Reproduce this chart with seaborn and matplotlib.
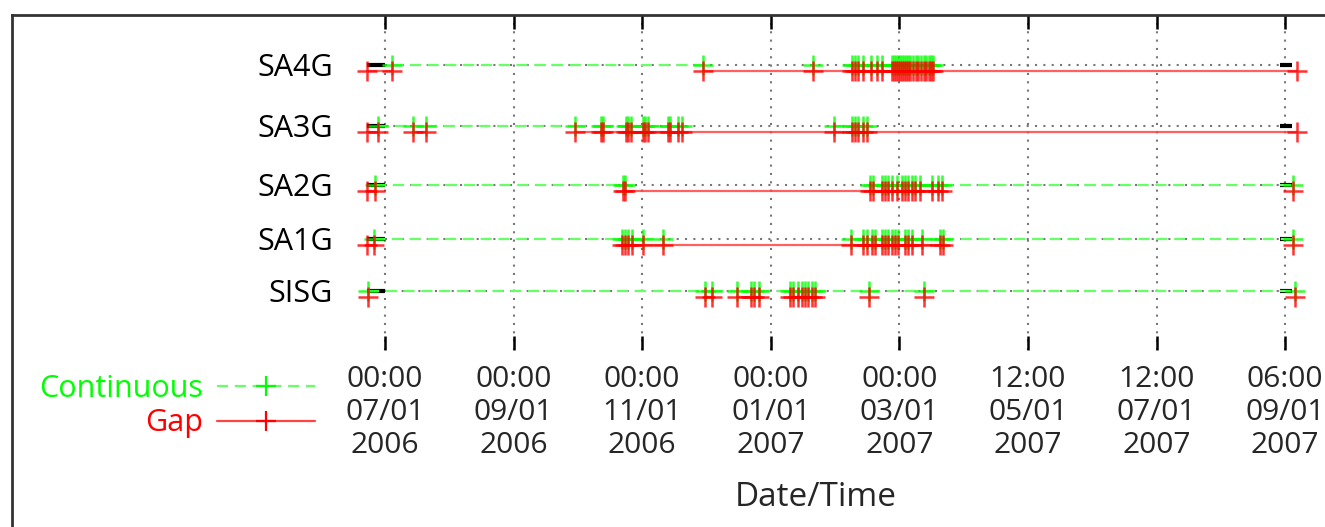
import numpy as np
import pandas as pd
import matplotlib
matplotlib.use("Agg")
import matplotlib.pyplot as plt
import seaborn as sns
from matplotlib.lines import Line2D

# ---------------- data ----------------
rows = ["SA4G", "SA3G", "SA2G", "SA1G", "SISG"]
row_pos = [50, 111, 170, 224, 276]          # vertical placement of each row (top = 0)

# x values: days since 2006-07-01 00:00
tick_days = [0, 61, 122, 183, 244, 305, 366, 427]
tick_labels = ["00:00\n07/01\n2006", "00:00\n09/01\n2006", "00:00\n11/01\n2006",
               "00:00\n01/01\n2007", "00:00\n03/01\n2007", "12:00\n05/01\n2007",
               "12:00\n07/01\n2007", "06:00\n09/01\n2007"]

range_start = -8.5
data_start = 0.0
data_end = 424.6
range_end = 430.5

sa4g_c = [221.5, 223.0, 224.4, 226.8, 230.5, 233.4, 235.8, 240.5, 241.5, 242.4, 243.4,
          244.3, 245.3, 246.2, 247.2, 248.1, 249.1, 250.5, 251.9, 252.8, 254.3, 255.7,
          256.6, 258.1, 259.0, 260.0]
sa3g_c1 = [90.1, 102.5, 103.4, 114.3, 115.3, 116.7, 122.4, 123.3, 124.8, 134.3, 135.2,
           139.0, 140.9]
sa3g_c2 = [213.0, 221.5, 223.0, 224.4, 226.8, 228.7]
sa2g_c = [230.1, 231.5, 235.8, 237.2, 238.6, 240.5, 242.9, 245.3, 246.7, 248.1, 250.0,
          251.4, 253.8, 259.5, 262.3, 264.2]
sa1g_c1 = [112.4, 113.9, 115.3, 117.2, 122.4, 131.9]
sa1g_c2 = [221.1, 226.8, 228.7, 231.0, 232.4, 235.8, 237.2, 238.6, 240.5, 241.9, 243.4,
           246.7, 248.1, 250.0, 254.7, 263.3, 264.7]
sisg_a = [151.8, 155.1]
sisg_b = [167.0, 173.6, 175.0, 177.4]
sisg_c = [192.1, 193.5, 195.9, 197.8, 199.2, 200.7, 202.6, 204.0]

continuous_runs = {
    "SA4G": [[3.3, 150.9], [203.0], sa4g_c],
    "SA3G": [[-3.3, 13.3, 19.4] + sa3g_c1, sa3g_c2],
    "SA2G": [[-4.9, 112.9, 113.9], sa2g_c + [430.7]],
    "SA1G": [[-5.2] + sa1g_c1, sa1g_c2 + [430.7]],
    "SISG": [[-8.2] + sisg_a + sisg_b + sisg_c + [229.6, 255.7, 431.7]],
}
gap_runs = {
    "SA4G": [[-8.5, 3.3], [150.9, 203.0] + sa4g_c + [432.6]],
    "SA3G": [[-8.5, -3.3], [13.3, 19.4], sa3g_c1 + sa3g_c2 + [432.6]],
    "SA2G": [[-8.5, -4.9], [112.9, 113.9] + sa2g_c, [430.7]],
    "SA1G": [[-8.5, -5.2], sa1g_c1 + sa1g_c2, [430.7]],
    "SISG": [[-8.2], sisg_a, sisg_b, sisg_c, [229.6], [255.7], [431.7]],
}

# ---------------- helpers ----------------
def seg_frame(runs, offset=0.0):
    recs, uid = [], 0
    for name, pos in zip(rows, row_pos):
        for run in runs[name]:
            for a, b in zip(run[:-1], run[1:]):
                recs += [(uid, a, pos + offset), (uid, b, pos + offset)]
                uid += 1
    return pd.DataFrame(recs, columns=["seg", "x", "y"])

def mark_frame(runs, offset=0.0):
    recs = []
    for name, pos in zip(rows, row_pos):
        for run in runs[name]:
            for v in run:
                recs.append((v, pos + offset))
    return pd.DataFrame(recs, columns=["x", "y"])

def span_frame(pairs):
    recs, uid = [], 0
    for pos in row_pos:
        for a, b in pairs:
            recs += [(uid, a, pos), (uid, b, pos)]
            uid += 1
    return pd.DataFrame(recs, columns=["seg", "x", "y"])

# ---------------- style ----------------
sns.set_style("white")
plt.rcParams["font.family"] = ["Open Sans", "DejaVu Sans"]

W, H = 1325, 527
fig = plt.figure(figsize=(W / 100, H / 100), dpi=100)
ax_l, ax_r, ax_t, ax_b = 12, 1340, 15, 350
ax = fig.add_axes([ax_l / W, 1 - ax_b / H, (ax_r - ax_l) / W, (ax_b - ax_t) / H])

px_per_day = 2.108
ax.set_xlim((ax_l - 385) / px_per_day, (ax_r - 385) / px_per_day)
ax.set_ylim(ax_b - ax_t, 0)

GREEN = "#00ff00"
RED = "#ff0000"
OFF = 6.0

# row baselines (grey dotted) and black range ends
sns.lineplot(data=span_frame([(data_start, data_end)]), x="x", y="y", units="seg",
             estimator=None, sort=False, color="#777777", lw=1.5,
             linestyle=(0, (1, 3)), ax=ax, zorder=2)
sns.lineplot(data=span_frame([(range_start, data_start), (data_end, range_end)]),
             x="x", y="y", units="seg", estimator=None, sort=False, color="black",
             lw=3.0, solid_capstyle="butt", ax=ax, zorder=3)

# continuous (green dashed)
sns.lineplot(data=seg_frame(continuous_runs), x="x", y="y", units="seg",
             estimator=None, sort=False, color="#66ff66", lw=1.6,
             linestyle=(0, (5, 3)), ax=ax, zorder=4)
sns.scatterplot(data=mark_frame(continuous_runs), x="x", y="y", marker="+", s=190,
                color=GREEN, linewidth=1.8, alpha=0.8, ax=ax, zorder=5, legend=False)

# gap (red solid)
sns.lineplot(data=seg_frame(gap_runs, OFF), x="x", y="y", units="seg",
             estimator=None, sort=False, color="#ff4444", lw=1.6, alpha=0.85,
             ax=ax, zorder=6)
sns.scatterplot(data=mark_frame(gap_runs, OFF), x="x", y="y", marker="+", s=190,
                color=RED, linewidth=1.8, alpha=0.8, ax=ax, zorder=7, legend=False)

# row names
for name, pos in zip(rows, row_pos):
    ax.text((333 - 385) / px_per_day, pos + 3, name, ha="right", va="center",
            fontsize=22, color="black")

# axes decoration
ax.set_xticks(tick_days)
ax.set_xticklabels(tick_labels, fontsize=21.5, linespacing=1.17)
ax.set_yticks([])
ax.set_xlabel("")
ax.set_ylabel("")
ax.grid(axis="x", color="#777777", linestyle=(0, (1, 3)), linewidth=1.5)
ax.grid(axis="y", visible=False)
ax.set_axisbelow(True)
ax.tick_params(axis="x", direction="in", length=10, width=1.8, color="black",
               top=True, bottom=True, labelbottom=True, pad=11)
for s in ["left", "right", "bottom"]:
    ax.spines[s].set_visible(False)
ax.spines["top"].set_color("#333333")
ax.spines["top"].set_linewidth(2.0)
fig.add_artist(Line2D([ax_l / W, ax_l / W], [0, 1 - ax_t / H], transform=fig.transFigure,
                      color="#333333", lw=2.0, solid_capstyle="projecting"))

fig.text(816 / W, 1 - 498 / H, "Date/Time", ha="center", va="center", fontsize=24)

# legend
handles = [Line2D([], [], color="#66ff66", lw=1.6, linestyle=(0, (5, 3)), marker="+",
                  markersize=14, markeredgecolor=GREEN, markeredgewidth=1.6),
           Line2D([], [], color="#ff4444", lw=1.6, marker="+", markersize=14,
                  markeredgecolor=RED, markeredgewidth=1.6)]
fig.legend(handles, ["Continuous", "Gap"], loc="center right",
           bbox_to_anchor=(315 / W, 1 - 406 / H), markerfirst=False, frameon=False,
           fontsize=22, labelcolor=[GREEN, RED], handlelength=3.2, handletextpad=0.45,
           labelspacing=0.15, borderpad=0, borderaxespad=0, numpoints=1)

fig.savefig("out.png", dpi=100)
